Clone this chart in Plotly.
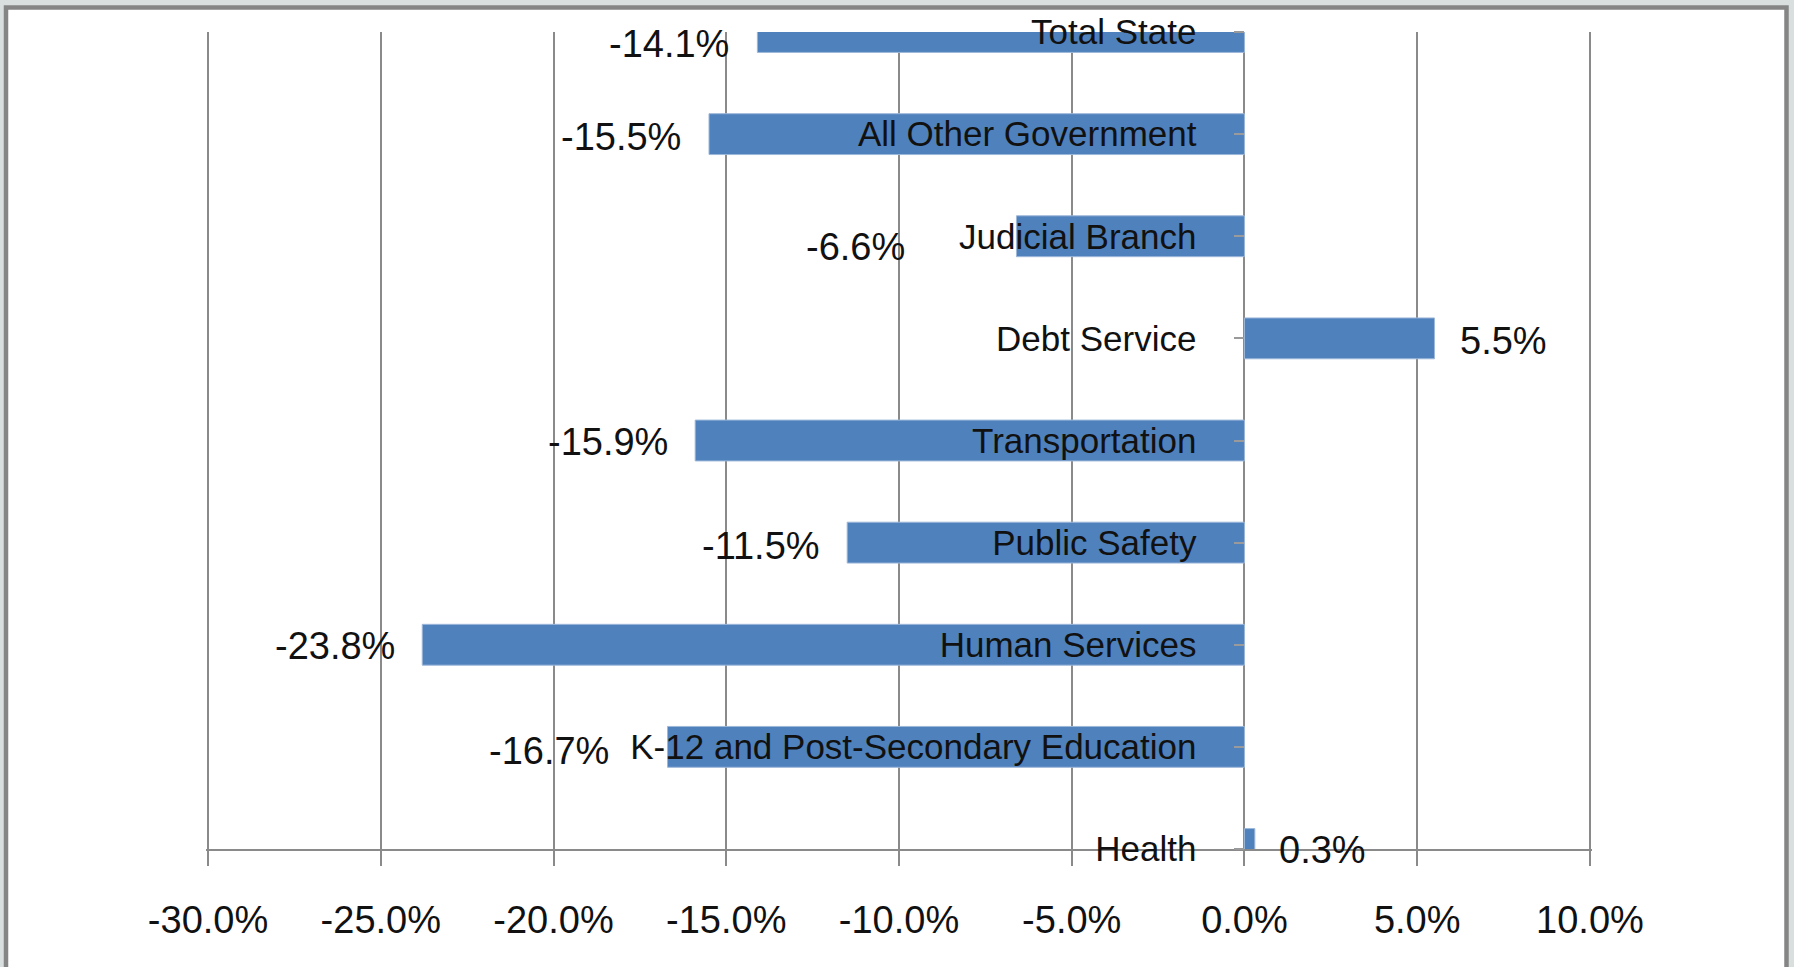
import plotly.graph_objects as go

# ---- data (top-to-bottom order as shown) ----
categories = [
    "Total State",
    "All Other Government",
    "Judicial Branch",
    "Debt Service",
    "Transportation",
    "Public Safety",
    "Human Services",
    "K-12 and Post-Secondary Education",
    "Health",
]
pct_change = [-14.1, -15.5, -6.6, 5.5, -15.9, -11.5, -23.8, -16.7, 0.3]
value_labels = ["-14.1%", "-15.5%", "-6.6%", "5.5%", "-15.9%", "-11.5%", "-23.8%", "-16.7%", "0.3%"]
x_tick_vals = [-30, -25, -20, -15, -10, -5, 0, 5, 10]
x_tick_text = ["-30.0%", "-25.0%", "-20.0%", "-15.0%", "-10.0%", "-5.0%", "0.0%", "5.0%", "10.0%"]

# ---- label nudges (pixels) ----
label_gap = [26, 26, 109, 24, 25, 25, 25, 57, 22]
label_down = [11.6, 2.8, 10.5, 3, 1.8, 3, 1, 3.8, 0.5]

# ---- layout geometry (pixels) ----
W, H = 1794, 967
ML, MR, MT, MB = 206, 202, 32, 118
PW, PH = W - ML - MR, H - MT - MB
X_PAD = 0.06  # small range padding so edge gridlines are drawn

def px_x(p):
    return (p - ML) / PW

def px_y(p):
    return 1 - (p - MT) / PH

BAR_COLOR = "#4F81BD"
GRID = "#8a8a8a"
FONT = "Liberation Sans, Arial, sans-serif"

order_bottom_up = categories[::-1]
x_lo, x_hi = x_tick_vals[0] - X_PAD, x_tick_vals[-1] + X_PAD

fig = go.Figure(
    go.Bar(
        x=pct_change,
        y=categories,
        orientation="h",
        width=0.4,
        marker=dict(color=BAR_COLOR, line=dict(color="#9db7d9", width=1)),
        hoverinfo="skip",
    )
)

annotations = []
for cat, v, txt, gap, dn in zip(categories, pct_change, value_labels, label_gap, label_down):
    neg = v < 0
    annotations.append(
        dict(
            x=v, y=cat, xref="x", yref="y",
            text=txt, showarrow=False,
            xanchor="right" if neg else "left",
            yanchor="middle",
            xshift=-gap if neg else gap,
            yshift=-dn,
            font=dict(family=FONT, size=38, color="#111111"),
        )
    )

fig.update_layout(
    width=W, height=H,
    margin=dict(l=ML, r=MR, t=MT, b=MB, pad=0),
    paper_bgcolor="#d9dfdf",
    plot_bgcolor="white",
    showlegend=False,
    annotations=annotations,
    shapes=[
        dict(
            type="rect", xref="paper", yref="paper", layer="below",
            x0=px_x(6), x1=px_x(1786.5), y0=px_y(990), y1=px_y(7.5),
            fillcolor="white", line=dict(color="#858585", width=4.5),
        )
    ],
    xaxis=dict(
        range=[x_lo, x_hi],
        tickvals=x_tick_vals, ticktext=x_tick_text,
        showgrid=True, gridcolor=GRID, gridwidth=1.5,
        zeroline=False,
        showline=True, linecolor=GRID, linewidth=1.5,
        ticks="outside", ticklen=15, tickcolor=GRID, tickwidth=1.5,
        tickfont=dict(family=FONT, size=38, color="#111111"),
        ticklabelstandoff=22,
        fixedrange=True,
    ),
    yaxis=dict(
        type="category",
        categoryorder="array", categoryarray=order_bottom_up,
        range=[0, 8],
        anchor="free", position=(0 - x_lo) / (x_hi - x_lo),
        showgrid=False, zeroline=False, showline=False,
        ticks="outside", ticklen=10, tickcolor="#9a9a9a", tickwidth=1.5,
        tickfont=dict(family=FONT, size=35, color="#111111"),
        ticklabelstandoff=31,
        fixedrange=True,
    ),
)

fig.write_html(
    "out.html",
    config={"displayModeBar": False},
    post_script="document.body.style.margin='0';document.body.style.overflow='hidden';",
)
